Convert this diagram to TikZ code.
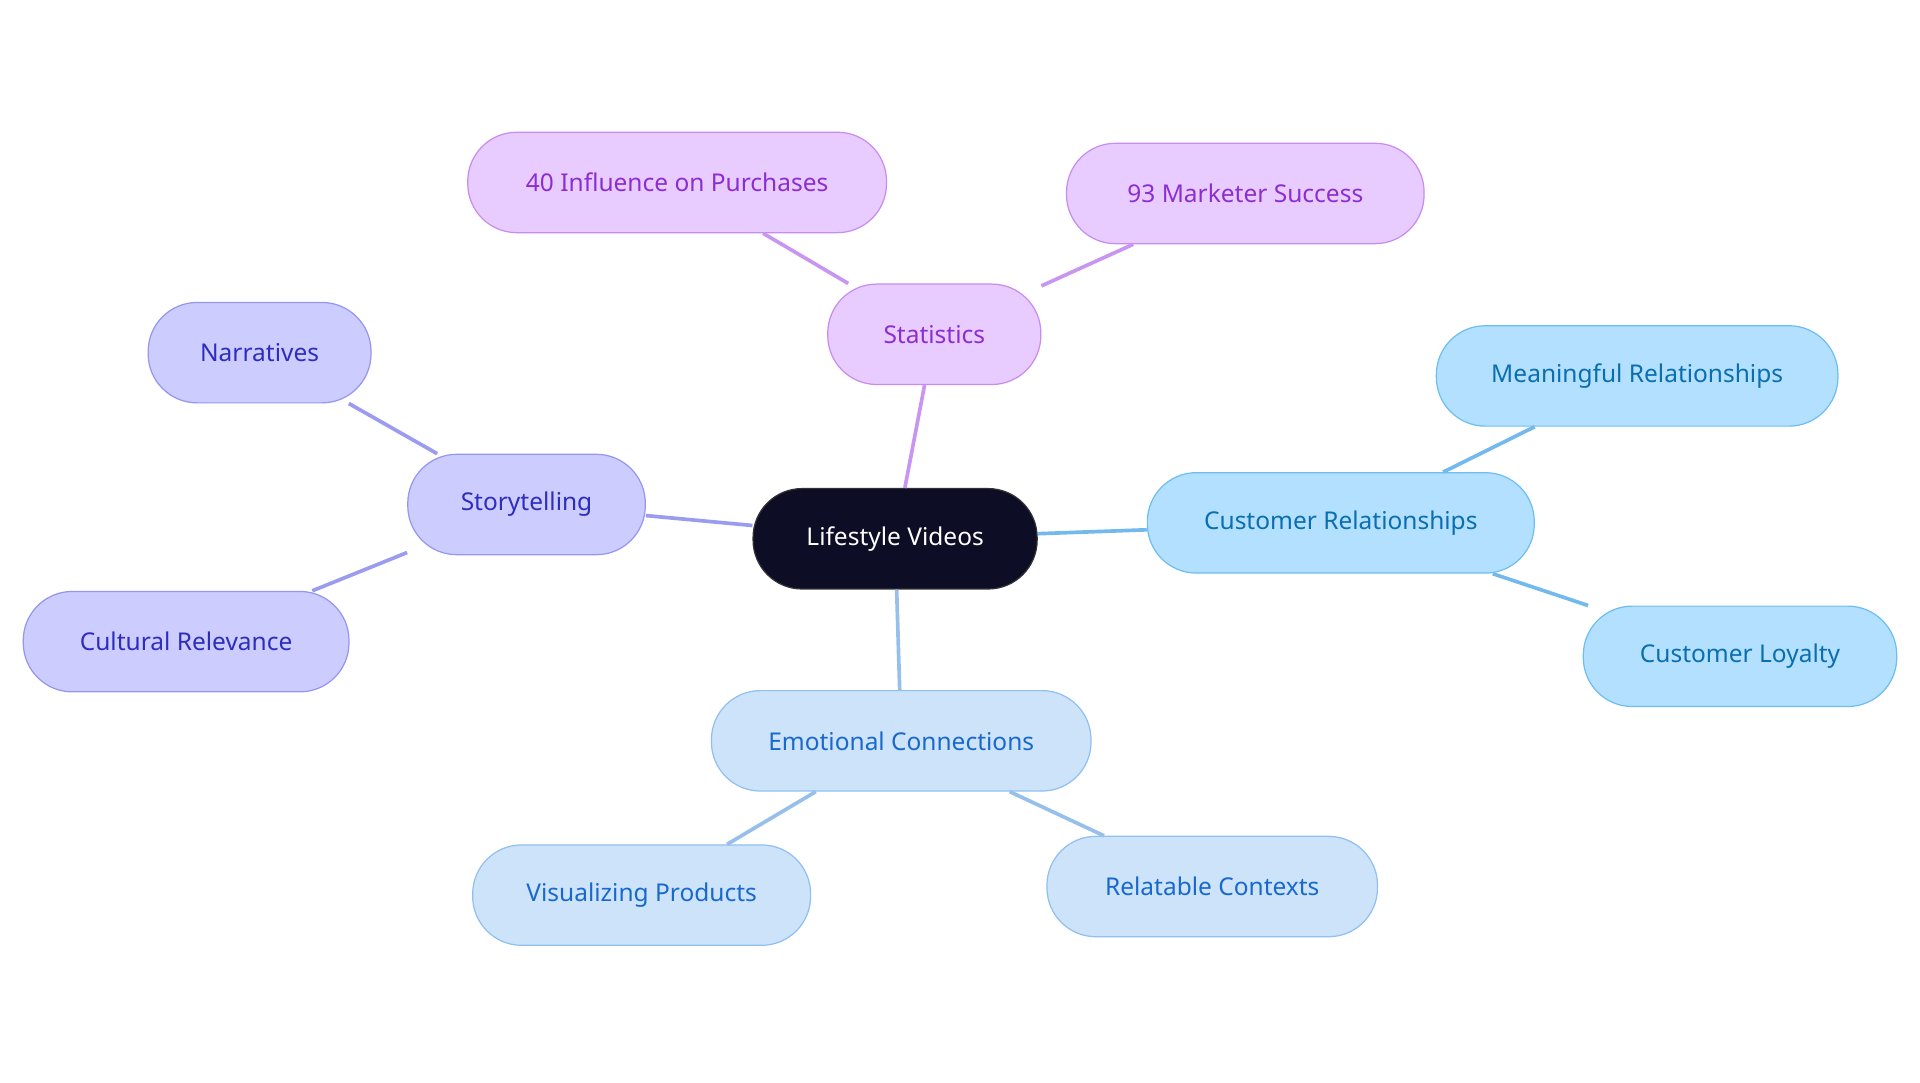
\documentclass[tikz,border=0pt]{standalone}
\usepackage{fontspec}
\setmainfont{Noto Sans}
\begin{document}
\begin{tikzpicture}[x=1pt,y=-1pt,
  base/.style={rounded corners=40pt,minimum height=82pt,font=\fontsize{20}{24}\selectfont,line width=1pt,inner sep=0pt},
  root/.style={base,fill=black!90!blue!95,draw=black!80,text=white},
  stat/.style={base,fill=violet!10!magenta!5!white,fill={rgb,255:red,232;green,204;blue,255},draw={rgb,255:red,200;green,140;blue,240},text={rgb,255:red,140;green,45;blue,210}},
  story/.style={base,fill={rgb,255:red,204;green,204;blue,255},draw={rgb,255:red,150;green,150;blue,240},text={rgb,255:red,45;green,45;blue,190}},
  cust/.style={base,fill={rgb,255:red,179;green,224;blue,255},draw={rgb,255:red,110;green,190;blue,240},text={rgb,255:red,10;green,110;blue,175}},
  emo/.style={base,fill={rgb,255:red,204;green,227;blue,250},draw={rgb,255:red,145;green,192;blue,240},text={rgb,255:red,25;green,105;blue,205}},
  estat/.style={draw={rgb,255:red,200;green,150;blue,240},line width=3pt},
  estory/.style={draw={rgb,255:red,155;green,155;blue,240},line width=3pt},
  ecust/.style={draw={rgb,255:red,115;green,185;blue,235},line width=3pt},
  eemo/.style={draw={rgb,255:red,150;green,192;blue,235},line width=3pt}]
\useasboundingbox (0,0) rectangle (1568,884);
\node[root,minimum width=232pt] (lv) at (731,440) {Lifestyle Videos};
\node[stat,minimum width=174pt] (st) at (763,273) {Statistics};
\node[stat,minimum width=342pt] (s1) at (553,149) {40 Influence on Purchases};
\node[stat,minimum width=292pt] (s2) at (1017,158) {93 Marketer Success};
\node[story,minimum width=194pt] (sy) at (430,412) {Storytelling};
\node[story,minimum width=182pt] (n1) at (212,288) {Narratives};
\node[story,minimum width=266pt] (n2) at (152,524) {Cultural Relevance};
\node[cust,minimum width=316pt] (cr) at (1095,427) {Customer Relationships};
\node[cust,minimum width=328pt] (c1) at (1337,307) {Meaningful Relationships};
\node[cust,minimum width=256pt] (c2) at (1421,536) {Customer Loyalty};
\node[emo,minimum width=310pt] (ec) at (736,605) {Emotional Connections};
\node[emo,minimum width=276pt] (e1) at (524,731) {Visualizing Products};
\node[emo,minimum width=270pt] (e2) at (990,724) {Relatable Contexts};
\draw[estat] (lv) -- (st); \draw[estat] (st) -- (s1); \draw[estat] (st) -- (s2);
\draw[estory] (lv) -- (sy); \draw[estory] (sy) -- (n1); \draw[estory] (sy) -- (n2);
\draw[ecust] (lv) -- (cr); \draw[ecust] (cr) -- (c1); \draw[ecust] (cr) -- (c2);
\draw[eemo] (lv) -- (ec); \draw[eemo] (ec) -- (e1); \draw[eemo] (ec) -- (e2);
\end{tikzpicture}
\end{document}
